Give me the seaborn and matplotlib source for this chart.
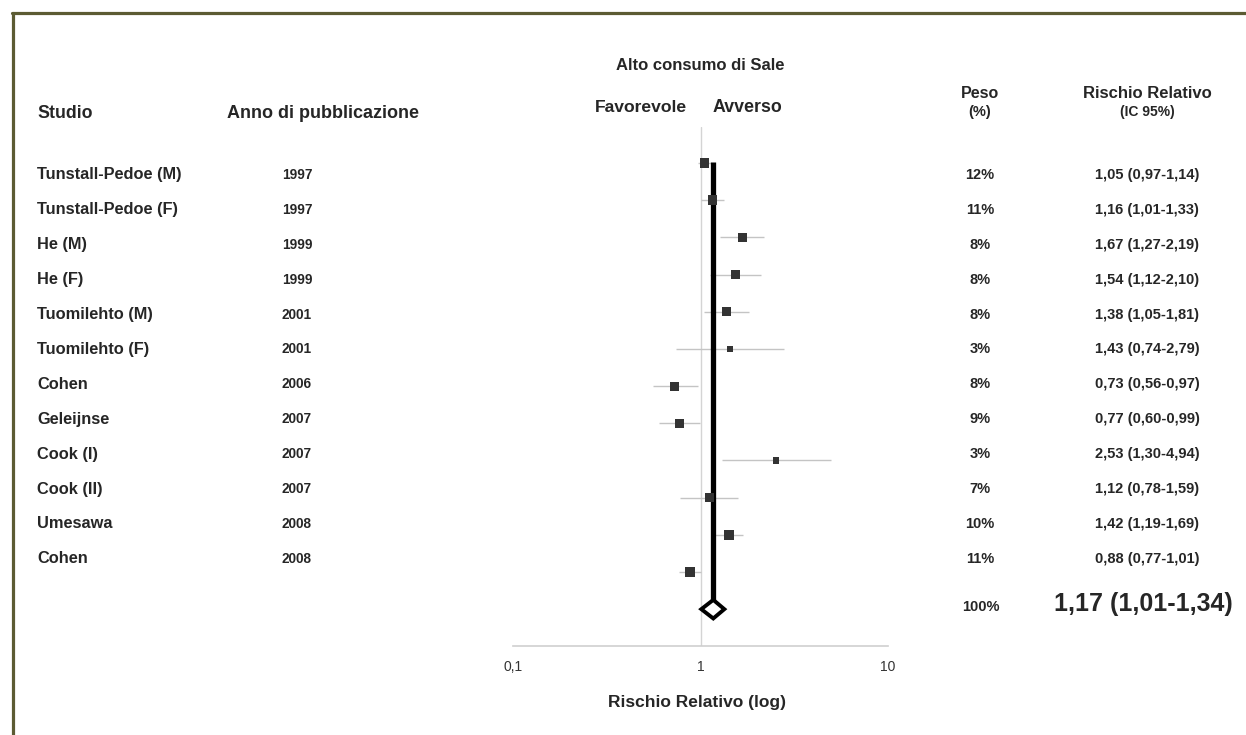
import matplotlib
matplotlib.use("Agg")
import numpy as np
import pandas as pd
import matplotlib.pyplot as plt
from matplotlib.lines import Line2D
import seaborn as sns

sns.set_style("white")
plt.rcParams['font.family'] = ['Liberation Sans', 'DejaVu Sans']

# data
studies = ["Tunstall-Pedoe (M)", "Tunstall-Pedoe (F)", "He (M)", "He (F)",
           "Tuomilehto (M)", "Tuomilehto (F)", "Cohen", "Geleijnse",
           "Cook (I)", "Cook (II)", "Umesawa", "Cohen"]
years = [1997, 1997, 1999, 1999, 2001, 2001, 2006, 2007, 2007, 2007, 2008, 2008]
rr = [1.05, 1.16, 1.67, 1.54, 1.38, 1.43, 0.73, 0.77, 2.53, 1.12, 1.42, 0.88]
ci_low = [0.97, 1.01, 1.27, 1.12, 1.05, 0.74, 0.56, 0.60, 1.30, 0.78, 1.19, 0.77]
ci_high = [1.14, 1.33, 2.19, 2.10, 1.81, 2.79, 0.97, 0.99, 4.94, 1.59, 1.69, 1.01]
weights = [12, 11, 8, 8, 8, 3, 8, 9, 3, 7, 10, 11]

pooled_rr, pooled_low, pooled_high, pooled_weight = 1.17, 1.01, 1.34, 100

tick_vals = [0.1, 1, 10]
tick_labels = ["0,1", "1", "10"]

def fmt(v):
    return f"{v:.2f}".replace(".", ",")

W, H = 1246, 735
def fx(x):
    return x / W
def fy(y):
    return 1 - y / H

fig = plt.figure(figsize=(12.46, 7.35), dpi=100)

# forest axes placed in pixel terms
ax_top, ax_bot = 127, 646
ax = fig.add_axes([fx(513), fy(ax_bot), (888 - 513) / W, (ax_bot - ax_top) / H])
ax.set_xscale("log")

row0, step = 163, 37.18
n = len(studies)
rows = np.arange(n)

df = pd.DataFrame({"rr": rr, "row": rows, "w": weights})
# marker area grows quickly then flattens, like the original
size_map = {w: 20 + 30 * np.sqrt((w - 3) / 9) for w in sorted(set(weights))}

ax.axvline(1, color="#d4d4d4", lw=1, zorder=0)
ax.hlines(rows, ci_low, ci_high, color="#c4c4c4", lw=1, zorder=1)
ax.vlines(pooled_rr, -0.03, n - 0.24, color="black", lw=3.8, zorder=2)
sns.scatterplot(data=df, x="rr", y="row", size="w", sizes=size_map,
                marker="s", color="#333333", linewidth=0, legend=False, ax=ax, zorder=3)

# pooled diamond
ax.fill([pooled_low, pooled_rr, pooled_high, pooled_rr],
        [n, n - 0.25, n, n + 0.25],
        facecolor="white", edgecolor="black", lw=2.8, zorder=4, joinstyle="miter")

ax.set_xlim(0.1, 10)
ax.set_ylim((ax_bot - row0) / step, (ax_top - row0) / step)
ax.set_xticks(tick_vals)
ax.set_xticklabels(tick_labels)
ax.minorticks_off()
ax.set_yticks([])
ax.set_xlabel("")
ax.set_ylabel("")
for s in ["top", "right", "left"]:
    ax.spines[s].set_visible(False)
ax.spines["bottom"].set_color("#cfcfcf")
ax.spines["bottom"].set_linewidth(1.2)
ax.tick_params(axis="x", direction="inout", length=6, width=1, color="#cfcfcf",
               labelsize=10, labelcolor="#333333", pad=7)
ax.patch.set_alpha(0)

# headers
fig.text(fx(700), fy(65), "Alto consumo di Sale", ha="center", va="center", fontsize=12, weight="bold")
fig.text(fx(687), fy(107), "Favorevole", ha="right", va="center", fontsize=12.6, weight="bold")
fig.text(fx(713), fy(107), "Avverso", ha="left", va="center", fontsize=12.8, weight="bold")
fig.text(fx(37), fy(113), "Studio", ha="left", va="center", fontsize=12.8, weight="bold")
fig.text(fx(227), fy(113), "Anno di pubblicazione", ha="left", va="center", fontsize=13, weight="bold")
fig.text(fx(980), fy(94), "Peso", ha="center", va="center", fontsize=11.5, weight="bold")
fig.text(fx(980), fy(112), "(%)", ha="center", va="center", fontsize=10.5, weight="bold")
fig.text(fx(1147), fy(94), "Rischio Relativo", ha="center", va="center", fontsize=12, weight="bold")
fig.text(fx(1147), fy(112), "(IC 95%)", ha="center", va="center", fontsize=10, weight="bold")

# row text
txt0, txt_step = 175, 34.9
for i in range(n):
    y = fy(txt0 + txt_step * i)
    fig.text(fx(37), y, studies[i], ha="left", va="center", fontsize=11.8, weight="bold")
    fig.text(fx(297), y, str(years[i]), ha="center", va="center", fontsize=9.8, weight="bold")
    fig.text(fx(980), y, f"{weights[i]}%", ha="center", va="center", fontsize=10.5, weight="bold")
    fig.text(fx(1147), y, f"{fmt(rr[i])} ({fmt(ci_low[i])}-{fmt(ci_high[i])})",
             ha="center", va="center", fontsize=10.5, weight="bold")

fig.text(fx(981), fy(607), f"{pooled_weight}%", ha="center", va="center", fontsize=10.5, weight="bold")
fig.text(fx(1143), fy(604), f"{fmt(pooled_rr)} ({fmt(pooled_low)}-{fmt(pooled_high)})",
         ha="center", va="center", fontsize=18, weight="bold")

fig.text(fx(697), fy(702), "Rischio Relativo (log)", ha="center", va="center", fontsize=12.5, weight="bold")

# olive frame (top and left edges)
fig.add_artist(Line2D([fx(12), 1], [fy(12.5), fy(12.5)], color="#5c5b33", lw=2.3))
fig.add_artist(Line2D([fx(13.5), fx(13.5)], [fy(12.5), 0], color="#5c5b33", lw=2.3))

fig.savefig("out.png", dpi=100)
